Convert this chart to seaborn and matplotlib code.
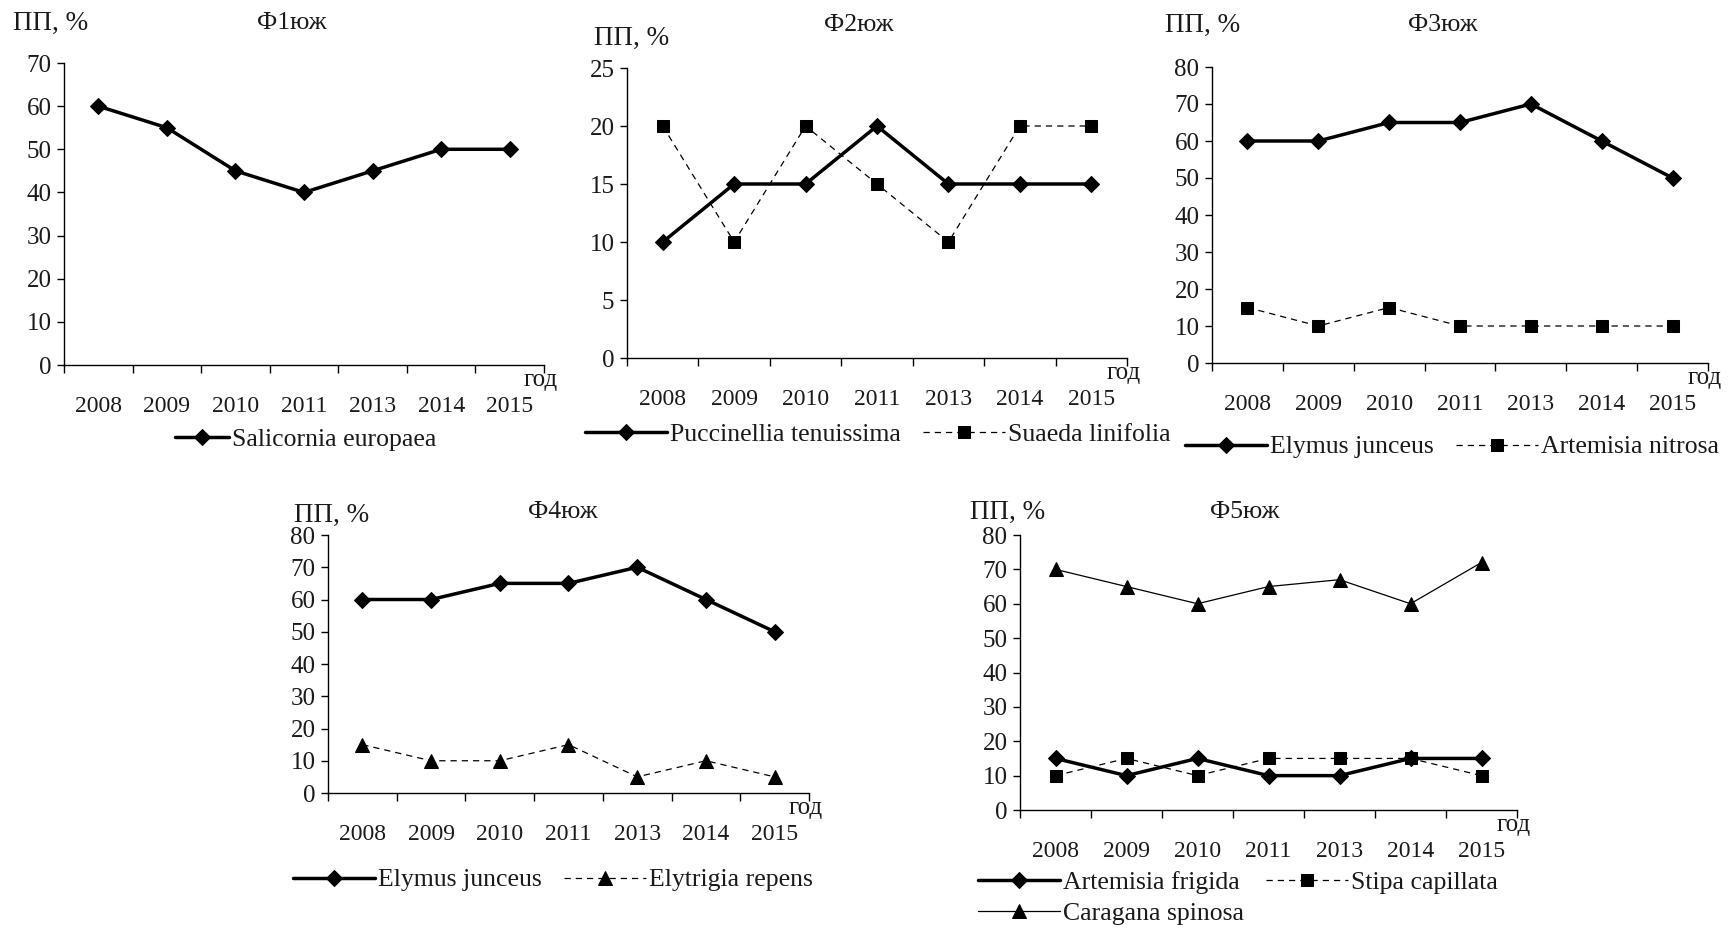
import numpy as np
import pandas as pd
import matplotlib
matplotlib.use('Agg')
import matplotlib.pyplot as plt
from matplotlib.ticker import FixedLocator, MultipleLocator
import seaborn as sns

# данные (проективное покрытие, %)
years = ['2008', '2009', '2010', '2011', '2013', '2014', '2015']

salicornia_europaea = [60, 55, 45, 40, 45, 50, 50]
puccinellia_tenuissima = [10, 15, 15, 20, 15, 15, 15]
suaeda_linifolia = [20, 10, 20, 15, 10, 20, 20]
elymus_junceus_f3 = [60, 60, 65, 65, 70, 60, 50]
artemisia_nitrosa = [15, 10, 15, 10, 10, 10, 10]
elymus_junceus_f4 = [60, 60, 65, 65, 70, 60, 50]
elytrigia_repens = [15, 10, 10, 15, 5, 10, 5]
artemisia_frigida = [15, 10, 15, 10, 10, 15, 15]
stipa_capillata = [10, 15, 10, 15, 15, 15, 10]
caragana_spinosa = [70, 65, 60, 65, 67, 60, 72]

titles = ['Ф1юж', 'Ф2юж', 'Ф3юж', 'Ф4юж', 'Ф5юж']

sns.set_theme(style='white')
plt.rcParams['font.family'] = ['Liberation Serif', 'DejaVu Serif']
plt.rcParams['font.size'] = 15

W, H = 1733, 930
fig = plt.figure(figsize=(W / 100, H / 100), dpi=100)

TXT = '#1a1a1a'
STYLES = {
    'thick': dict(linewidth=2.5, linestyle='-', marker='D', markersize=8),
    'dash_sq': dict(linewidth=0.9, linestyle=(0, (5, 4)), marker='s', markersize=8),
    'dash_tri': dict(linewidth=0.9, linestyle=(0, (5, 4)), marker='^', markersize=9.5),
    'thin_tri': dict(linewidth=0.9, linestyle='-', marker='^', markersize=9.5),
}


def px_rect(x0, y0, x1, y1):
    return [x0 / W, 1 - y1 / H, (x1 - x0) / W, (y1 - y0) / H]


def fig_text(x, y, s, size):
    fig.text(x / W, 1 - y / H, s, ha='center', va='center', fontsize=size, color=TXT)


def draw_panel(rect, series, ytop, ystep, title, title_xy, ylab_xy, leg_xy, ncol,
               order=None, handlelength=3.2):
    ax = fig.add_axes(px_rect(*rect))
    for name, vals, st in series:
        df = pd.DataFrame({'год': years, 'ПП': vals})
        sns.lineplot(data=df, x='год', y='ПП', ax=ax, sort=False, color='black',
                     markeredgecolor='black', markerfacecolor='black', label=name,
                     **STYLES[st])
    ax.set_ylim(0, ytop)
    ax.set_xlim(-0.5, len(years) - 0.5)
    ax.yaxis.set_major_locator(MultipleLocator(ystep))
    ax.xaxis.set_minor_locator(FixedLocator(np.arange(-0.5, len(years), 1.0)))
    ax.tick_params(axis='x', which='major', length=0, pad=22, labelsize=17, labelcolor=TXT)
    ax.tick_params(axis='x', which='minor', length=6, width=1, direction='out', bottom=True, color='black')
    ax.tick_params(axis='y', which='major', length=5, width=1, direction='out', left=True,
                   pad=4, labelsize=18, color='black', labelcolor=TXT)
    ax.set_xlabel('')
    ax.set_ylabel('')
    sns.despine(ax=ax)
    for sp in ('left', 'bottom'):
        ax.spines[sp].set_color('black')
        ax.spines[sp].set_linewidth(1)
    ax.annotate('год', xy=(1, 0), xycoords='axes fraction', xytext=(10, -11),
                textcoords='offset points', ha='right', va='center', fontsize=18, color=TXT)
    fig_text(*title_xy, title, 18.5)
    fig_text(*ylab_xy, 'ПП, %', 19.5)
    handles, labels = ax.get_legend_handles_labels()
    if ax.get_legend() is not None:
        ax.get_legend().remove()
    if order is not None:
        handles = [handles[i] for i in order]
        labels = [labels[i] for i in order]
    leg = fig.legend(handles, labels, loc='center left', bbox_to_anchor=(leg_xy[0] / W, 1 - leg_xy[1] / H),
                     bbox_transform=fig.transFigure, ncol=ncol, frameon=False, fontsize=18.5,
                     handlelength=handlelength, handletextpad=0.12, columnspacing=0.85, numpoints=1,
                     borderaxespad=0, borderpad=0, labelspacing=0.3)
    for t in leg.get_texts():
        t.set_color(TXT)
    return ax


draw_panel((64, 63, 544, 365),
           [('Salicornia europaea', salicornia_europaea, 'thick')],
           70, 10, titles[0], (292, 23), (51, 23), (175, 440), 1, handlelength=2.1)

draw_panel((627, 68, 1127, 358),
           [('Puccinellia tenuissima', puccinellia_tenuissima, 'thick'),
            ('Suaeda linifolia', suaeda_linifolia, 'dash_sq')],
           25, 5, titles[1], (859, 25), (632, 38), (585, 435), 2)

draw_panel((1212, 67, 1708, 363),
           [('Elymus junceus', elymus_junceus_f3, 'thick'),
            ('Artemisia nitrosa', artemisia_nitrosa, 'dash_sq')],
           80, 10, titles[2], (1443, 25), (1203, 25), (1185, 447), 2)

draw_panel((328, 535, 809, 793),
           [('Elymus junceus', elymus_junceus_f4, 'thick'),
            ('Elytrigia repens', elytrigia_repens, 'dash_tri')],
           80, 10, titles[3], (563, 512), (332, 515), (293, 880), 2)

draw_panel((1020, 535, 1517, 810),
           [('Artemisia frigida', artemisia_frigida, 'thick'),
            ('Stipa capillata', stipa_capillata, 'dash_sq'),
            ('Caragana spinosa', caragana_spinosa, 'thin_tri')],
           80, 10, titles[4], (1245, 512), (1008, 512), (978, 898), 2, order=[0, 2, 1])

fig.savefig('out.png', dpi=100, facecolor='white')
